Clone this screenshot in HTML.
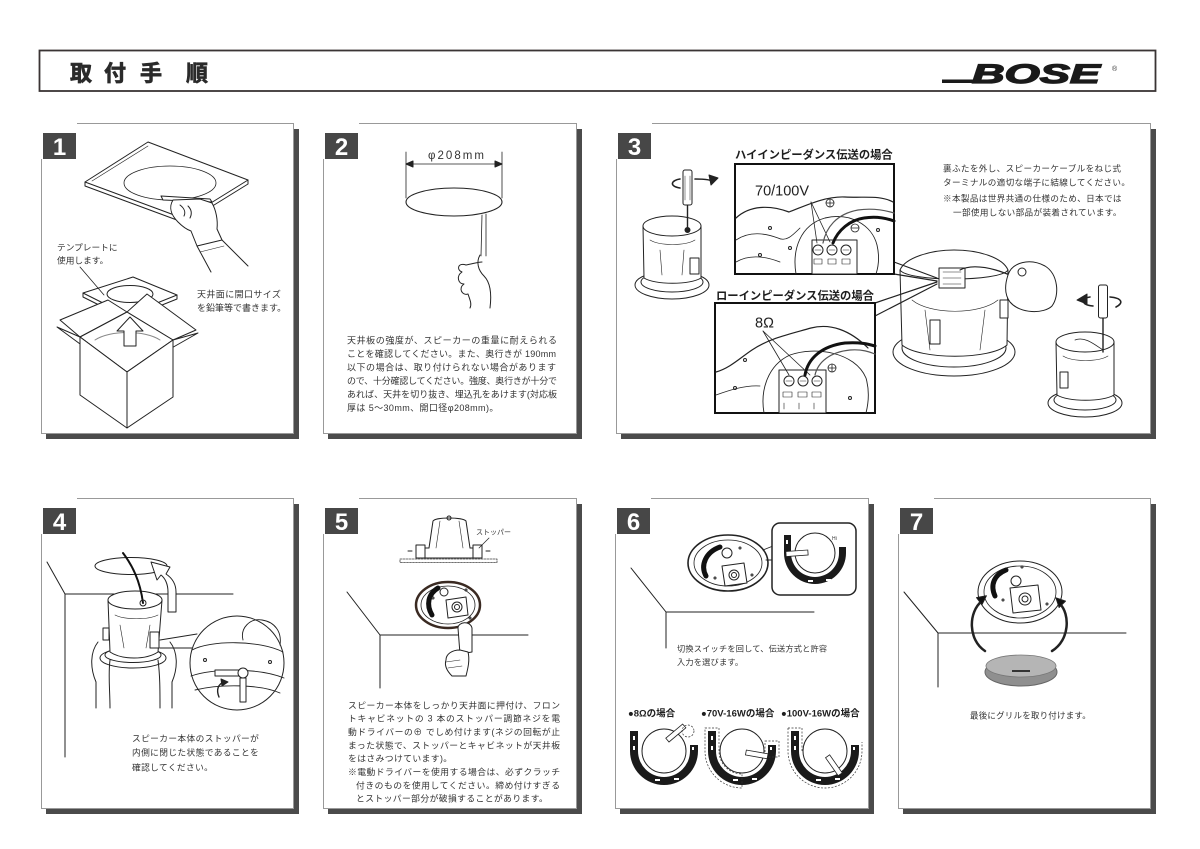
<!DOCTYPE html>
<html><head><meta charset="utf-8">
<style>
html,body{margin:0;padding:0;background:#fff;}
svg{display:block;}
.t{font-family:"Liberation Sans","Noto Sans CJK JP",sans-serif;fill:#333;}
.b{font-family:"Liberation Sans","Noto Sans CJK JP",sans-serif;fill:#1e1e1e;font-weight:bold;}
.n{font-family:"Liberation Sans",sans-serif;font-weight:bold;font-size:24px;fill:#fff;}
.ln{fill:none;stroke:#222;stroke-width:1;stroke-linejoin:round;stroke-linecap:round;}
.lw{fill:#fff;stroke:#222;stroke-width:1;stroke-linejoin:round;}
.lg{fill:none;stroke:#555;stroke-width:0.8;}
</style></head><body>
<svg width="1200" height="849" viewBox="0 0 1200 849" xmlns="http://www.w3.org/2000/svg">
<rect width="1200" height="849" fill="#fff"/>

<!-- HEADER -->
<rect x="39.5" y="50.5" width="1116" height="40.5" fill="none" stroke="#3a3434" stroke-width="1.8"/>
<g font-family="'Liberation Sans','Noto Sans CJK JP',sans-serif" font-weight="bold" font-size="22" fill="#2a2a2a" stroke="#2a2a2a" stroke-width="0.7">
<text x="70" y="81">取</text><text x="104" y="81">付</text><text x="140" y="81">手</text><text x="186" y="81">順</text>
</g>
<rect x="942" y="79.5" width="40" height="3.5" fill="#1a1a1a"/>
<text x="972" y="83" font-family="'Liberation Sans',sans-serif" font-weight="bold" font-style="italic" font-size="27" textLength="128" lengthAdjust="spacingAndGlyphs" fill="#1a1a1a" stroke="#1a1a1a" stroke-width="1.3">BOSE</text>
<text x="1112" y="71" font-family="'Liberation Sans',sans-serif" font-size="7" fill="#333">®</text>

<!-- PANEL FRAMES -->
<g>
<rect x="46" y="129" width="253" height="310" fill="#4b4b4b"/>
<rect x="41.5" y="123.5" width="252" height="310" fill="#fff" stroke="#999"/>
<rect x="40" y="122" width="37" height="37" fill="#fff"/>
<rect x="43" y="133" width="33" height="26" fill="#474747"/>
<text class="n" x="59.5" y="155" text-anchor="middle">1</text>

<rect x="328" y="129" width="254" height="310" fill="#4b4b4b"/>
<rect x="323.5" y="123.5" width="253" height="310" fill="#fff" stroke="#999"/>
<rect x="322" y="122" width="37" height="37" fill="#fff"/>
<rect x="325" y="133" width="33" height="26" fill="#474747"/>
<text class="n" x="341.5" y="155" text-anchor="middle">2</text>

<rect x="621" y="129" width="535" height="310" fill="#4b4b4b"/>
<rect x="616.5" y="123.5" width="534" height="310" fill="#fff" stroke="#999"/>
<rect x="615" y="122" width="37" height="37" fill="#fff"/>
<rect x="618" y="133" width="33" height="26" fill="#474747"/>
<text class="n" x="634.5" y="155" text-anchor="middle">3</text>

<rect x="46" y="504" width="253" height="310" fill="#4b4b4b"/>
<rect x="41.5" y="498.5" width="252" height="310" fill="#fff" stroke="#999"/>
<rect x="40" y="497" width="37" height="37" fill="#fff"/>
<rect x="43" y="508" width="33" height="26" fill="#474747"/>
<text class="n" x="59.5" y="530" text-anchor="middle">4</text>

<rect x="328" y="504" width="254" height="310" fill="#4b4b4b"/>
<rect x="323.5" y="498.5" width="253" height="310" fill="#fff" stroke="#999"/>
<rect x="322" y="497" width="37" height="37" fill="#fff"/>
<rect x="325" y="508" width="33" height="26" fill="#474747"/>
<text class="n" x="341.5" y="530" text-anchor="middle">5</text>

<rect x="620" y="504" width="254" height="310" fill="#4b4b4b"/>
<rect x="615.5" y="498.5" width="253" height="310" fill="#fff" stroke="#999"/>
<rect x="614" y="497" width="37" height="37" fill="#fff"/>
<rect x="617" y="508" width="33" height="26" fill="#474747"/>
<text class="n" x="633.5" y="530" text-anchor="middle">6</text>

<rect x="903" y="504" width="253" height="310" fill="#4b4b4b"/>
<rect x="898.5" y="498.5" width="252" height="310" fill="#fff" stroke="#999"/>
<rect x="897" y="497" width="37" height="37" fill="#fff"/>
<rect x="900" y="508" width="33" height="26" fill="#474747"/>
<text class="n" x="916.5" y="530" text-anchor="middle">7</text>
</g>

<!-- PANEL 1 DRAWING -->
<g class="ln">
<polygon class="lw" points="85,182 148,142 248,180 185,219"/>
<polyline points="85,182 85,186 185,223 248,184 248,180"/>
<line x1="92" y1="181" x2="148" y2="146" stroke-width="0.6"/>
<line x1="185" y1="219" x2="185" y2="223"/>
<ellipse cx="170" cy="183" rx="46" ry="17" stroke-width="0.8"/>
<polygon class="lw" points="161,196 210,199 212,202 163,200"/>
<path class="lw" d="M173,200 C168,208 172,216 178,222 C184,228 188,230 191,231 L197,246 L222,240 L217,229 C218,220 216,210 212,203 L200,199 Z"/>
<path d="M180,205 C184,208 186,212 184,216 M188,206 C192,210 192,214 190,218"/>
<path d="M197,246 L211,272 M222,240 L248,266"/>
<path d="M200,252 L224,246" stroke-width="0.6"/>
<polygon class="lw" points="83,293 133,277 177,295 127,315"/>
<polyline points="83,293 83,297 127,319 177,299 177,295"/>
<line x1="127" y1="315" x2="127" y2="319"/>
<ellipse cx="130" cy="294" rx="23" ry="8.5"/>
<line x1="80" y1="267" x2="104" y2="295" stroke-width="0.8"/>
<polygon class="lw" points="80,337 60,320 108,300 127,312"/>
<polygon class="lw" points="127,312 147,294 196,330 173,340"/>
<polygon class="lw" points="80,337 127,312 173,340 127,372"/>
<polygon class="lw" points="80,337 57,327 110,366 127,372"/>
<polygon class="lw" points="127,372 173,340 198,333 140,366"/>
<polygon class="lw" points="80,337 127,372 127,428 80,395"/>
<polygon class="lw" points="127,372 173,340 173,397 127,428"/>
<path d="M95,340 C110,330 145,330 160,340" stroke="#888"/>
<polygon class="lw" points="124,346 124,331 117,331 130,317 143,331 136,331 136,346"/>
</g>
<text class="t" font-size="8.7" x="57" y="250.5">テンプレートに</text>
<text class="t" font-size="8.7" x="57" y="263.5">使用します。</text>
<text class="t" font-size="9" letter-spacing="0.4" x="197" y="297.5">天井面に開口サイズ</text>
<text class="t" font-size="9" x="197" y="311">を鉛筆等で書きます。</text>

<!-- PANEL 2 DRAWING -->
<g class="ln">
<line x1="406" y1="152" x2="406" y2="198" stroke-width="0.8"/>
<line x1="502" y1="152" x2="502" y2="198" stroke-width="0.8"/>
<line x1="410" y1="164" x2="498" y2="164" stroke-width="0.8"/>
<polygon points="406,164 413,161 413,167" fill="#222"/>
<polygon points="502,164 495,161 495,167" fill="#222"/>
<ellipse cx="454" cy="202" rx="48" ry="14" stroke-width="1.1"/>
<path d="M482,215 L481,256 M486,214 L486,256" stroke-width="0.8"/>
<path class="lw" d="M480,255 C476,262 478,270 484,276 C490,282 492,292 490,308 M466,265 C458,262 456,270 462,272 C456,276 458,284 464,284 C458,288 462,296 468,294 C470,300 472,304 470,308 M466,265 C472,264 478,262 482,262"/>
</g>
<text class="t" font-size="11.5" x="428" y="159" textLength="56">φ208mm</text>
<g class="t" font-size="9">
<text x="347" y="343.4" textLength="210">天井板の強度が、スピーカーの重量に耐えられる</text>
<text x="347" y="356.8" textLength="209">ことを確認してください。また、奥行きが 190mm</text>
<text x="347" y="370.5" textLength="209">以下の場合は、取り付けられない場合があります</text>
<text x="347" y="384" textLength="210">ので、十分確認してください。強度、奥行きが十分で</text>
<text x="347" y="397.4" textLength="210">あれば、天井を切り抜き、埋込孔をあけます(対応板</text>
<text x="347" y="410.8" letter-spacing="0.4">厚は 5〜30mm、開口径φ208mm)。</text>
</g>

<!-- PANEL 3 DRAWING -->
<g class="ln">
<ellipse cx="672" cy="285" rx="37" ry="14"/>
<ellipse cx="672" cy="282" rx="31" ry="10"/>
<path class="lw" d="M643,226 L644,278 C655,285 690,285 701,278 L701,226"/>
<ellipse class="lw" cx="672" cy="226" rx="29" ry="10"/>
<path d="M650,240 C660,246 685,246 695,240 M660,250 L662,275 M684,250 L682,275" stroke-width="0.6"/>
<rect class="lw" x="690" y="258" width="9" height="16"/>
<circle cx="687.5" cy="230" r="2.5" fill="#222"/>
<line x1="687.5" y1="205" x2="687.5" y2="230" stroke-width="1.4"/>
<rect class="lw" x="683" y="170" width="9" height="35" rx="2"/>
<path d="M685,176 L685,200 M690,176 L690,200" stroke-width="0.5"/>
<path d="M680,188 C668,186 672,180 680,179 M695,179 C705,179 712,180 713,182" stroke-width="1.6"/>
<polygon points="718,178 709,175 711,185" fill="#222"/>
<ellipse cx="954" cy="352" rx="61" ry="24"/>
<ellipse cx="954" cy="348" rx="52" ry="19"/>
<path class="lw" d="M900,270 L902,345 C920,360 990,360 1007,345 L1008,270"/>
<path class="lw" d="M900,270 C905,258 930,250 954,250 C980,250 1003,258 1008,270 C1000,282 908,282 900,270 Z"/>
<path d="M912,300 C930,315 980,315 998,300 M925,310 L930,350 M985,310 L980,350" stroke-width="0.6"/>
<rect class="lw" x="939" y="268" width="26" height="20"/>
<path d="M943,272 h18 M943,278 h18 M943,284 h18" stroke-width="0.5"/>
<rect class="lw" x="930" y="320" width="10" height="24"/>
<rect class="lw" x="1000" y="300" width="8" height="18"/>
<path d="M960,270 C975,262 1010,268 1050,300" stroke-width="1.2"/>
<path class="lw" d="M1008,275 C1012,262 1030,258 1045,266 C1058,274 1060,295 1052,306 C1044,314 1020,314 1010,302 C1004,294 1005,284 1008,275 Z"/>
<circle cx="1022" cy="272" r="4"/>
<ellipse cx="1085" cy="403" rx="37" ry="14"/>
<ellipse cx="1085" cy="400" rx="31" ry="10"/>
<path class="lw" d="M1056,342 L1057,395 C1068,402 1103,402 1114,395 L1114,342"/>
<ellipse class="lw" cx="1085" cy="342" rx="29" ry="10"/>
<path d="M1063,356 C1073,362 1098,362 1108,356" stroke-width="0.6"/>
<rect class="lw" x="1060" y="372" width="8" height="16"/>
<path d="M1075,340 C1085,336 1095,345 1103,350" stroke-width="0.8"/>
<line x1="1103" y1="318" x2="1103" y2="352" stroke-width="1.4"/>
<rect class="lw" x="1098.5" y="285" width="9" height="33" rx="2"/>
<path d="M1093,306 C1080,305 1082,298 1090,297 M1110,297 C1122,298 1124,303 1116,307" stroke-width="1.6"/>
<polygon points="1077,300 1087,294 1087,304" fill="#222"/>
<path d="M894,262 L937,278 M894,274 L937,281 M875,303 L937,282 M875,316 L937,284" stroke-width="1.2"/>
</g>
<rect x="735" y="164" width="159" height="110" fill="#fff" stroke="#111" stroke-width="2"/>
<g class="ln">
<path d="M736,218 C750,205 770,205 789,212 C805,206 825,196 845,197 C865,198 880,195 893,202" stroke-width="1.2"/>
<path d="M736,240 C748,232 762,232 778,238 C786,242 792,236 800,228" stroke-width="0.8"/>
<path d="M736,262 C748,255 762,255 780,262" stroke-width="0.8"/>
<path d="M796,274 C792,250 800,225 825,218 C850,212 872,225 877,245 C880,258 878,268 876,274" stroke-width="0.9"/>
<rect class="lw" x="812" y="240" width="45" height="34"/>
<circle cx="818" cy="250" r="5"/><circle cx="832" cy="250" r="5"/><circle cx="846" cy="250" r="5"/>
<path d="M815,250 h6 M829,250 h6 M843,250 h6" stroke-width="0.6"/>
<path d="M814,259 h8 v5 h-8 z M828,259 h8 v5 h-8 z M842,259 h8 v5 h-8 z" stroke-width="0.6"/>
<line x1="811" y1="202" x2="817" y2="243" stroke-width="0.8"/>
<line x1="811" y1="202" x2="830" y2="242" stroke-width="0.8"/>
<circle cx="830" cy="203" r="4" stroke-width="0.8"/><path d="M826,203 h8 M830,199 v8" stroke-width="0.8"/>
<circle cx="855" cy="228" r="4" stroke-width="0.8"/><path d="M851,228 h8" stroke-width="0.8"/>
<path d="M823,243 C826,228 836,214 858,210 C872,208 884,210 894,213" stroke="#555" stroke-width="1.2"/>
<path d="M833,243 C838,230 850,220 864,218 C876,216 886,218 894,221" stroke="#111" stroke-width="3"/>
<circle cx="770" cy="228" r="1.5"/><circle cx="790" cy="248" r="1.5"/><circle cx="878" cy="230" r="1.5"/><circle cx="760" cy="255" r="1.5"/>
</g>
<rect x="715" y="303" width="160" height="110" fill="#fff" stroke="#111" stroke-width="2"/>
<g class="ln">
<path d="M716,372 C730,368 740,358 752,350 C770,338 790,334 811,328 C830,323 850,330 868,348" stroke-width="1.2"/>
<path d="M716,395 C730,390 745,385 760,386" stroke-width="0.8"/>
<path d="M764,413 C760,390 768,365 790,355 C815,346 855,352 866,378 C870,392 868,405 866,413" stroke-width="0.9"/>
<rect class="lw" x="779" y="370" width="47" height="43"/>
<circle cx="789" cy="381" r="5"/><circle cx="803" cy="381" r="5"/><circle cx="817" cy="381" r="5"/>
<path d="M786,381 h6 M800,381 h6 M814,381 h6" stroke-width="0.6"/>
<path d="M783,392 h9 v5 h-9 z M798,392 h9 v5 h-9 z M812,392 h9 v5 h-9 z M784,403 v6 M799,403 v6 M814,403 v6" stroke-width="0.6"/>
<line x1="763" y1="331" x2="789" y2="375" stroke-width="0.8"/>
<line x1="763" y1="331" x2="810" y2="375" stroke-width="0.8"/>
<circle cx="832" cy="368" r="4" stroke-width="0.8"/><path d="M828,368 h8 M832,364 v8" stroke-width="0.8"/>
<path d="M815,375 C818,362 830,352 850,350 C862,349 870,352 875,354" stroke="#555" stroke-width="1.2"/>
<path d="M805,375 C808,358 822,346 845,343 C860,342 868,344 875,346" stroke="#111" stroke-width="3"/>
<circle cx="735" cy="388" r="1.5"/><circle cx="850" cy="398" r="1.5"/><circle cx="745" cy="360" r="1.5"/>
</g>
<text class="b" font-size="11.3" x="735" y="158.5">ハイインピーダンス伝送の場合</text>
<text class="b" font-size="11.3" x="716" y="299.5">ローインピーダンス伝送の場合</text>
<text x="755" y="195.5" font-family="'Liberation Sans',sans-serif" font-size="14.5" fill="#222">70/100V</text>
<text x="755" y="327.5" font-family="'Liberation Sans',sans-serif" font-size="14.5" fill="#222">8Ω</text>
<g class="t" font-size="8.6" letter-spacing="0.35">
<text x="943" y="171.4">裏ふたを外し、スピーカーケーブルをねじ式</text>
<text x="943" y="185.4">ターミナルの適切な端子に結線してください。</text>
<text x="943" y="201.4">※本製品は世界共通の仕様のため、日本では</text>
<text x="953" y="215.4">一部使用しない部品が装着されています。</text>
</g>

<!-- PANEL 4 DRAWING -->
<g class="ln">
<path d="M47,562 L65,594 L233,594 M65,594 L65,757"/>
<ellipse cx="131" cy="566" rx="36" ry="8.5" class="lw"/>
<ellipse cx="133" cy="658" rx="33" ry="10"/>
<ellipse cx="133" cy="655" rx="28" ry="7.5"/>
<path class="lw" d="M108,600 L110,652 C122,660 146,660 158,652 L162,600"/>
<ellipse class="lw" cx="135" cy="600" rx="27" ry="9"/>
<path d="M115,615 C125,620 148,620 158,615 M120,625 L124,648 M150,625 L146,648" stroke-width="0.6"/>
<rect class="lw" x="103" y="628" width="6" height="12"/>
<rect class="lw" x="150" y="632" width="9" height="16"/>
<path d="M123,553 C132,565 140,580 143,603" stroke="#111" stroke-width="2"/>
<circle cx="143" cy="603" r="3"/>
<path class="lw" d="M168,612 L176,612 L176,592 C176,584 172,578 166,574 L170,567 L151,562 L157,580 L161,575 C165,578 168,584 168,592 Z"/>
<path d="M98,642 C90,652 90,668 96,682 L96,708 M110,660 C108,675 110,690 110,708 M170,642 C178,652 178,668 172,682 L172,708 M158,660 C160,675 160,690 160,708"/>
<path d="M160,640 L197,634 M160,648 L194,648" stroke-width="1"/>
<circle class="lw" cx="237" cy="663" r="47" stroke-width="1.8"/>
<path d="M192,650 C210,640 260,640 283,652 M191,676 C215,668 260,668 284,678 M195,690 C220,684 260,684 280,693" stroke-width="0.9"/>
<path d="M243,640 C240,628 250,618 262,620 C275,622 282,632 280,645" stroke-width="0.9"/>
<rect class="lw" x="215" y="670" width="26" height="6"/>
<circle class="lw" cx="243" cy="673" r="5"/>
<rect class="lw" x="240" y="678" width="6" height="24"/>
<path d="M219,697 C216,690 218,684 224,682" stroke-width="1.4"/>
<polygon points="228,682 221,679 222,686" fill="#222"/>
<circle cx="205" cy="660" r="1.5"/><circle cx="270" cy="662" r="1.5"/>
</g>
<g class="t" font-size="8.7" letter-spacing="0.4">
<text x="132" y="741.4">スピーカー本体のストッパーが</text>
<text x="132" y="755.4">内側に閉じた状態であることを</text>
<text x="132" y="770.4">確認してください。</text>
</g>

<!-- PANEL 5 DRAWING -->
<g class="ln">
<rect x="400" y="559" width="97" height="3.5" fill="#fff" stroke="#444" stroke-width="0.8" stroke-dasharray="2,1"/>
<path class="lw" d="M433,521 C436,517 462,517 466,521 L470,548 L474,548 L474,558 L424,558 L424,548 L429,548 Z"/>
<path d="M440,521 L436,548 M459,521 L463,548" stroke-width="0.6"/>
<circle cx="449" cy="518" r="2"/>
<rect class="lw" x="416" y="545" width="9" height="13"/>
<rect class="lw" x="473" y="545" width="9" height="13"/>
<path d="M412,551 h-4 M486,551 h4" stroke-width="1"/>
<line x1="489" y1="538" x2="479" y2="548" stroke-width="0.7"/>
<path d="M347,592 L380,635 L528,635 M380,635 L380,688"/>
<ellipse cx="448" cy="605" rx="32" ry="23" fill="#fff" stroke="#3a2a22" stroke-width="2.5"/>
<ellipse cx="448" cy="605" rx="27" ry="19" stroke-width="0.8"/>
<path d="M432,615 C426,605 428,594 438,588" stroke="#111" stroke-width="5"/>
<circle cx="444" cy="592" r="4"/>
<polygon class="lw" points="446,600 466,597 468,615 448,618"/>
<circle cx="457" cy="607" r="5"/><circle cx="457" cy="607" r="2.5"/>
<circle cx="433" cy="598" r="1"/><circle cx="466" cy="590" r="1"/><circle cx="470" cy="618" r="1"/>
<path class="lw" d="M458,628 C458,622 470,620 472,628 L472,652 L460,654 Z"/>
<path class="lw" d="M460,650 C452,650 446,654 446,660 C444,666 448,672 452,676 L466,676 C468,668 470,660 468,652 Z"/>
<path d="M446,662 L460,660 M448,668 L462,666" stroke-width="0.6"/>
</g>
<text class="t" font-size="7" x="476" y="534.5">ストッパー</text>
<g class="t" font-size="8.8">
<text x="348" y="708.4" textLength="212">スピーカー本体をしっかり天井面に押付け、フロン</text>
<text x="348" y="721.7" textLength="212">トキャビネットの 3 本のストッパー調節ネジを電</text>
<text x="348" y="735.1" textLength="212">動ドライバーの⊕ でしめ付けます(ネジの回転が止</text>
<text x="348" y="748.4" textLength="212">まった状態で、ストッパーとキャビネットが天井板</text>
<text x="348" y="761.7" letter-spacing="0.4">をはさみつけています)。</text>
<text x="348" y="775.1" textLength="212">※電動ドライバーを使用する場合は、必ずクラッチ</text>
<text x="356" y="788.4" textLength="204">付きのものを使用してください。締め付けすぎる</text>
<text x="356" y="801.7" letter-spacing="0.4">とストッパー部分が破損することがあります。</text>
</g>

<!-- PANEL 6 DRAWING -->
<g class="ln">
<path d="M631,568 L666,612 L814,612 M666,612 L666,648"/>
<ellipse cx="728" cy="563" rx="40" ry="28" stroke-width="1.6"/>
<ellipse cx="728" cy="563" rx="34" ry="23" stroke-width="0.8"/>
<path d="M706,576 C700,565 706,552 720,547" stroke="#111" stroke-width="5"/>
<circle cx="727" cy="553" r="5"/>
<polygon class="lw" points="722,566 744,563 747,583 725,586"/>
<circle cx="734" cy="575" r="5"/><circle cx="734" cy="575" r="2.5"/>
<circle cx="715" cy="578" r="1"/><circle cx="752" cy="575" r="1"/><circle cx="740" cy="548" r="1"/>
<path d="M763,550 L773,546 M766,560 L773,560" stroke-width="0.9"/>
<rect x="772" y="523" width="84" height="72" rx="8" fill="#fff" stroke="#222" stroke-width="1.5"/>
</g>
<g>
<path d="M784,535 L791,535 L791,553 A24,24 0 0 0 839,553 L839,547 L846,547 L846,553 A31,31 0 0 1 784,553 Z" fill="#1a1a1a"/>
<circle cx="815" cy="553" r="20" fill="#fff" stroke="#222"/>
<rect x="786" y="550" width="22" height="5" fill="#fff" stroke="#222" stroke-width="0.8" transform="rotate(-4 808 553)"/>
<text x="832" y="540" font-family="'Liberation Sans',sans-serif" font-size="5" fill="#333">Hi</text>

<path d="M630,731 L638,731 L638,751 A26,26 0 0 0 690,751 L690,745 L698,745 L698,751 A34,34 0 0 1 630,751 Z" fill="#1a1a1a"/>
<circle cx="664" cy="751" r="22" fill="#fff" stroke="#222"/>
<rect x="669" y="737" width="22" height="5" fill="#fff" stroke="#222" stroke-width="0.8" transform="rotate(-40 669 742)"/>
<circle cx="688" cy="731" r="6" fill="none" stroke="#333" stroke-width="0.7" stroke-dasharray="2,1.5"/>

<path d="M708,731 L716,731 L716,751 A26,26 0 0 0 768,751 L768,745 L776,745 L776,751 A34,34 0 0 1 708,751 Z" fill="#1a1a1a"/>
<path d="M705,728 L719,728 L719,751 A23,23 0 0 0 742,774 L742,788 A37,37 0 0 1 705,751 Z" fill="none" stroke="#333" stroke-width="0.7" stroke-dasharray="2,1.5"/>
<rect x="765" y="741" width="14" height="16" fill="none" stroke="#333" stroke-width="0.7" stroke-dasharray="2,1.5"/>
<circle cx="742" cy="751" r="22" fill="#fff" stroke="#222"/>
<rect x="746" y="750" width="22" height="5" fill="#fff" stroke="#222" stroke-width="0.8" transform="rotate(10 746 752)"/>

<path d="M791,731 L799,731 L799,751 A26,26 0 0 0 851,751 L851,745 L859,745 L859,751 A34,34 0 0 1 791,751 Z" fill="#1a1a1a"/>
<path d="M788,728 L802,728 L802,751 M788,728 L788,751 A37,37 0 0 0 862,751 L862,742" fill="none" stroke="#333" stroke-width="0.7" stroke-dasharray="2,1.5"/>
<circle cx="825" cy="751" r="22" fill="#fff" stroke="#222"/>
<rect x="828" y="754" width="22" height="5" fill="#fff" stroke="#222" stroke-width="0.8" transform="rotate(55 828 756)"/>
<g fill="#fff">
<rect x="633" y="736" width="2" height="4"/><rect x="633" y="746" width="2" height="4"/><rect x="655" y="779" width="5" height="2"/><rect x="674" y="778" width="5" height="2"/><rect x="692" y="747" width="2" height="3"/>
<rect x="711" y="736" width="2" height="4"/><rect x="711" y="746" width="2" height="4"/><rect x="733" y="779" width="5" height="2"/><rect x="752" y="778" width="5" height="2"/><rect x="770" y="747" width="2" height="3"/>
<rect x="794" y="736" width="2" height="4"/><rect x="794" y="746" width="2" height="4"/><rect x="816" y="779" width="5" height="2"/><rect x="835" y="778" width="5" height="2"/><rect x="853" y="747" width="2" height="3"/>
<rect x="786" y="540" width="2" height="4"/><rect x="808" y="580" width="5" height="2"/><rect x="826" y="579" width="5" height="2"/>
</g>
</g>
<text class="t" font-size="8.2" letter-spacing="0.2" x="677" y="651.7">切換スイッチを回して、伝送方式と許容</text>
<text class="t" font-size="8.2" letter-spacing="0.2" x="677" y="665.1">入力を選びます。</text>
<g class="b" font-size="9.5" fill="#111">
<text x="628" y="716.5">●8Ωの場合</text>
<text x="701" y="716.5">●70V-16Wの場合</text>
<text x="781" y="716.5">●100V-16Wの場合</text>
</g>

<!-- PANEL 7 DRAWING -->
<g class="ln">
<path d="M904,592 L938,633 L1126,633 M938,633 L938,687"/>
<ellipse cx="1020" cy="592" rx="42" ry="31" class="lw" stroke-width="1.3"/>
<ellipse cx="1020" cy="592" rx="36" ry="26" stroke-width="0.8"/>
<path d="M995,596 C990,585 994,575 1006,570" stroke="#111" stroke-width="5"/>
<circle cx="1016" cy="581" r="5"/>
<polygon class="lw" points="1010,588 1038,585 1041,610 1013,613"/>
<circle cx="1025" cy="599" r="6"/><circle cx="1025" cy="599" r="3"/>
<circle cx="1003" cy="600" r="1"/><circle cx="1047" cy="604" r="1"/><circle cx="1022" cy="567" r="1"/>
</g>
<ellipse cx="1021" cy="672" rx="36" ry="14" fill="#8f8f8f" stroke="#666"/>
<ellipse cx="1021" cy="666" rx="35" ry="11" fill="#b5b5b5" stroke="#777" stroke-width="0.8"/>
<line x1="1012" y1="671" x2="1030" y2="671" stroke="#333" stroke-width="2"/>
<g class="ln" stroke="#111">
<path d="M985,651 C968,640 968,612 982,601" stroke-width="2.5"/>
<polygon points="986.4,595.8 981.9,604.8 976.5,597.6" fill="#111"/>
<path d="M1052,651 C1070,640 1070,614 1060,604" stroke-width="2.5"/>
<polygon points="1055.9,597.9 1065.5,601.1 1059.1,607.5" fill="#111"/>
</g>
<text class="t" font-size="8.5" letter-spacing="0.2" x="970" y="718.4">最後にグリルを取り付けます。</text>

</svg>
</body></html>
